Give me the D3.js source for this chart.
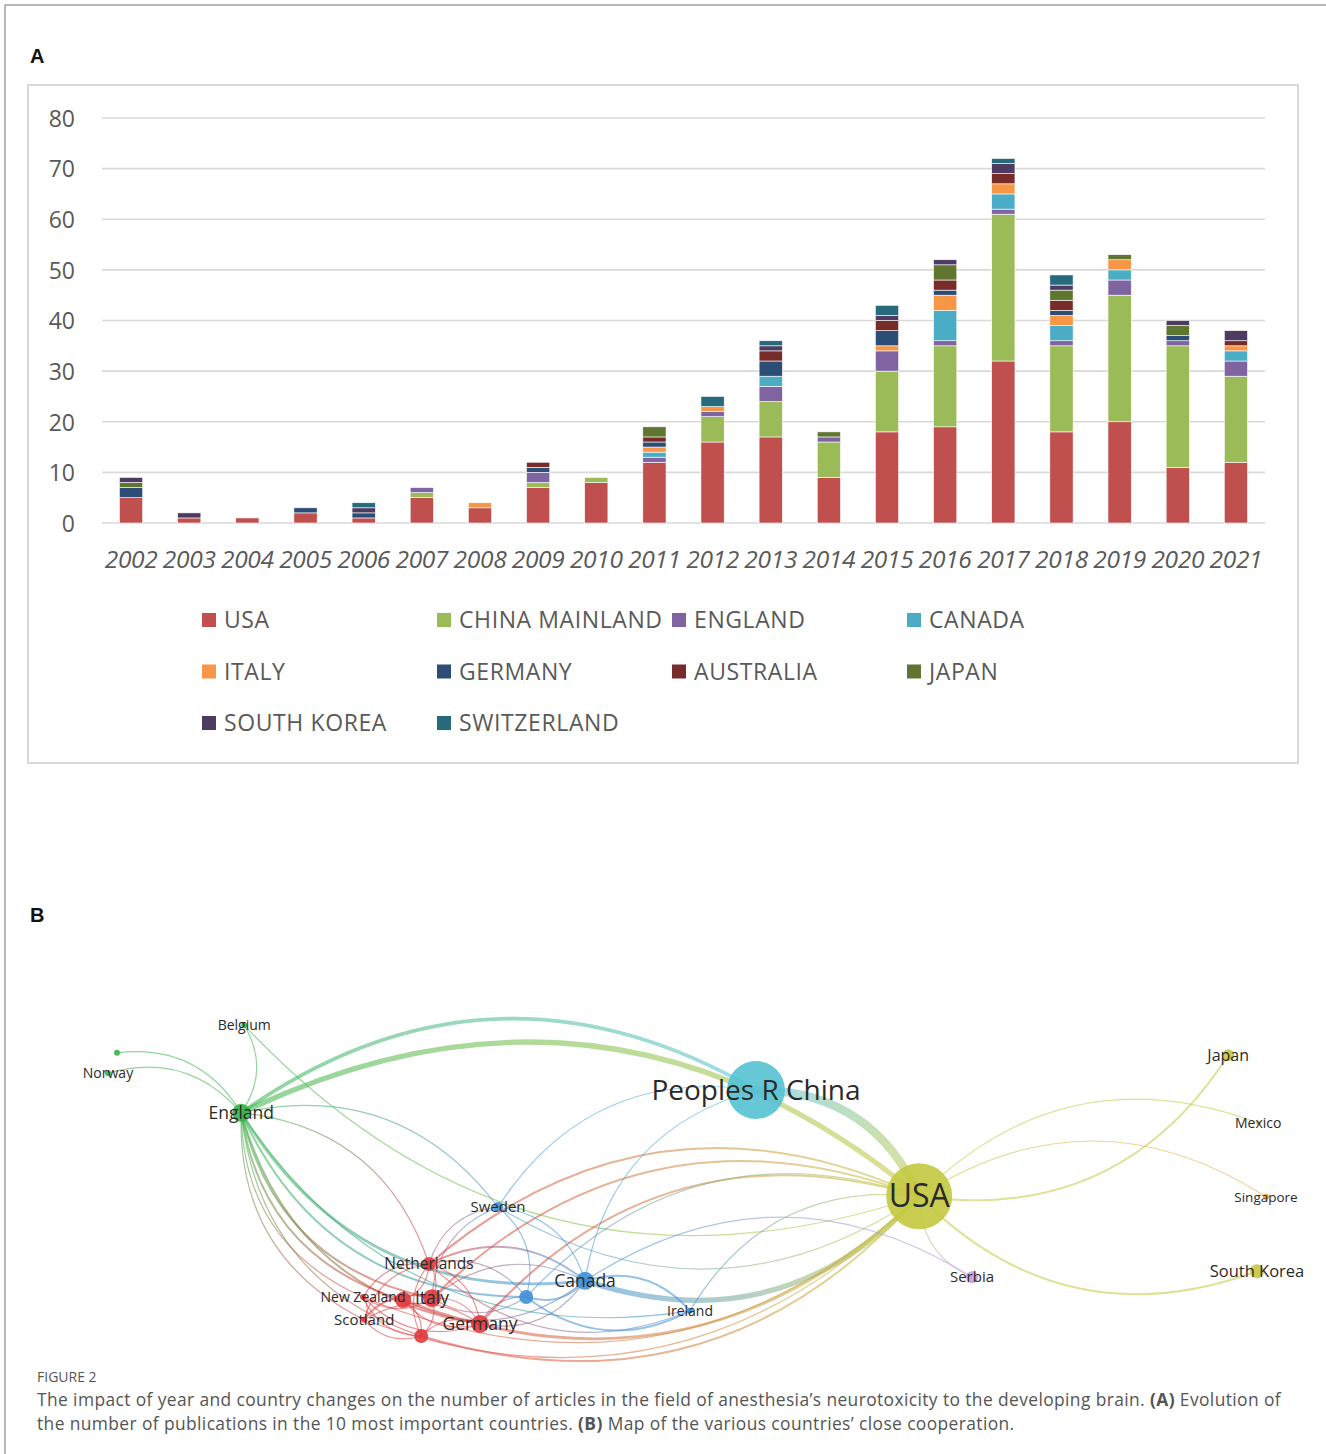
<!DOCTYPE html>
<html><head><meta charset="utf-8">
<script src="https://cdn.jsdelivr.net/npm/d3@7"></script>
<style>body{margin:0;background:#fff;} svg{display:block;}</style>
</head><body>
<svg id="fig" width="1326" height="1454"></svg>
<script>
// ---------- Panel A data ----------
const years = ["2002","2003","2004","2005","2006","2007","2008","2009","2010","2011","2012","2013","2014","2015","2016","2017","2018","2019","2020","2021"];
const seriesNames = ["USA","CHINA MAINLAND","ENGLAND","CANADA","ITALY","GERMANY","AUSTRALIA","JAPAN","SOUTH KOREA","SWITZERLAND"];
const seriesColors = ["#C0504D","#9BBB59","#8064A2","#4BACC6","#F79646","#2C4D75","#772C2A","#5F7530","#4D3B62","#276A7C"];
const usa         = [5,1,1,2,1,5,3,7,8,12,16,17,9,18,19,32,18,20,11,12];
const china       = [0,0,0,0,0,1,0,1,1,0,5,7,7,12,16,29,17,25,24,17];
const england     = [0,0,0,0,0,1,0,2,0,1,1,3,1,4,1,1,1,3,1,3];
const canada      = [0,0,0,0,0,0,0,0,0,1,0,2,0,0,6,3,3,2,0,2];
const italy       = [0,0,0,0,0,0,1,0,0,1,1,0,0,1,3,2,2,2,0,1];
const germany     = [2,0,0,1,1,0,0,1,0,1,0,3,0,3,1,0,1,0,1,0];
const australia   = [0,0,0,0,0,0,0,1,0,1,0,2,0,2,2,2,2,0,0,1];
const japan       = [1,0,0,0,0,0,0,0,0,2,0,0,1,0,3,0,2,1,2,0];
const southKorea  = [1,1,0,0,1,0,0,0,0,0,0,1,0,1,1,2,1,0,1,2];
const switzerland = [0,0,0,0,1,0,0,0,0,0,2,1,0,2,0,1,2,0,0,0];
const yTicks = [0,10,20,30,40,50,60,70,80];

// ---------- Panel B data (map coordinates, node weights, links) ----------
const nodeNames   = ["", "Norway","Belgium","England","Peoples R China","USA","Japan","Mexico","Singapore","South Korea","Serbia","Sweden","Canada","","Ireland","Netherlands","New Zealand","","Italy","Scotland","Germany",""];
const nodeX       = [-0.955,-0.970,-0.743,-0.748,0.110,0.382,0.897,0.947,0.960,0.945,0.470,-0.320,-0.175,-0.273,0.000,-0.435,-0.545,-0.478,-0.430,-0.543,-0.350,-0.448];
const nodeY       = [-0.212,-0.178,-0.258,-0.112,-0.150,0.027,-0.208,-0.095,0.028,0.152,0.162,0.045,0.168,0.195,0.218,0.140,0.195,0.200,0.197,0.233,0.240,0.260];
const nodeWeight  = [0.8,0.8,0.8,7.4,77,100,3.3,0.4,0.8,4.5,3.3,2.3,7.4,4.5,0.8,4.5,0.8,5.9,7.4,0.8,7.4,4.5];
const nodeCluster = [0,0,0,0,1,2,2,2,3,2,4,5,5,5,5,6,6,6,6,6,6,6];
const nodeLabelSize = [0,14,14,17.5,28,32,16,14,13.5,16.5,15,15,17.5,0,14,15.5,14,0,17.5,15,17.5,0];
const clusterColors = ["#37b24a","#55c1d3","#c3c940","#f0a23c","#c59ee0","#3f8fd6","#e0393d"];
// links: [source index, target index, strength, bend direction]
const links = [
 [3,5,6,1],[3,4,4,1],[4,5,10,1],[12,5,6,-1],
 [3,2,1,-1],[3,1,1,-1],[3,0,1,-1],[2,5,1,-1],[3,11,1,1],
 [3,15,1,1],[3,18,2,-1],[3,20,2,-1],[3,16,1,-1],[3,19,1,-1],[3,17,2,-1],[3,21,1,-1],[3,12,3,-1],[3,13,2,-1],[3,14,1,-1],
 [15,5,2,1],[18,5,2,1],[20,5,2,1],[17,5,3,-1],[21,5,2,-1],[16,5,1,-1],[19,5,1,-1],
 [14,5,1,1],[13,5,1,1],[11,5,1,-1],
 [4,12,1,-1],[4,11,1,-1],
 [11,12,1,1],[11,13,1,1],[12,13,2,1],[12,14,2,1],[13,14,2,-1],[11,15,1,-1],[11,18,1,-1],
 [15,12,2,1],[15,13,1,1],[18,12,1,1],[18,13,1,-1],[20,12,1,-1],[20,13,1,1],[17,12,1,-1],[15,14,1,-1],
 [10,5,1,1],[10,12,1,-1],
 [5,6,2,-1],[5,7,1,1],[5,8,1,1],[5,9,2,-1],
 [15,18,1,1],[15,16,1,-1],[15,19,1,-1],[15,20,1,1],[15,17,1,1],[15,21,1,-1],
 [18,16,1,1],[18,19,1,-1],[18,20,1,1],[18,17,1,-1],[18,21,1,1],
 [20,17,1,1],[20,21,1,-1],[20,19,1,-1],[17,21,1,1],[17,19,1,-1],[16,21,1,-1],[16,19,1,1],[19,21,1,-1],[16,20,1,-1]
];

// ---------- caption ----------
const captionTitle = "FIGURE 2";
const captionLine1 = [["The impact of year and country changes on the number of articles in the field of anesthesia’s neurotoxicity to the developing brain. ",false],["(A)",true],[" Evolution of",false]];
const captionLine2 = [["the number of publications in the 10 most important countries. ",false],["(B)",true],[" Map of the various countries’ close cooperation.",false]];

const svg = d3.select("#fig");
const FONT = "'Open Sans', 'Noto Sans', sans-serif";

// outer frame
svg.append("rect").attr("x",5).attr("y",5).attr("width",1340).attr("height",1470)
  .attr("fill","none").attr("stroke","#8a8a8a").attr("stroke-width",1.2);

// ---------- Panel A ----------
svg.append("text").attr("x",30).attr("y",63).text("A")
  .attr("font-family","'Liberation Sans', Arial, sans-serif").attr("font-weight","bold").attr("font-size",20).attr("fill","#111");
svg.append("rect").attr("x",28).attr("y",85).attr("width",1270).attr("height",678)
  .attr("fill","#fff").attr("stroke","#d9d9d9").attr("stroke-width",2);

const x = d3.scaleBand().domain(years).range([102,1265]).paddingInner(0.6).paddingOuter(0.3);
const y = d3.scaleLinear().domain([0,80]).range([523,118]);

const gGrid = svg.append("g");
gGrid.selectAll("line").data(yTicks).join("line")
  .attr("x1",102).attr("x2",1265).attr("y1",d=>y(d)).attr("y2",d=>y(d))
  .attr("stroke","#d9d9d9").attr("stroke-width",1.6);

const yAxis = d3.axisLeft(y).tickValues(yTicks).tickSize(0).tickPadding(0);
const gy = svg.append("g").attr("transform","translate(75,0)").call(yAxis);
gy.select(".domain").remove();
gy.selectAll("text").attr("font-family",FONT).attr("font-size",23).attr("fill","#595959").attr("dy","0.36em");

const xAxis = d3.axisBottom(x).tickSize(0).tickPadding(0);
const gx = svg.append("g").attr("transform","translate(0,568)").call(xAxis);
gx.select(".domain").remove();
gx.selectAll("text").attr("font-family",FONT).attr("font-size",24.5).attr("font-style","italic").attr("fill","#595959").attr("dy",0).attr("letter-spacing",-0.3);

const seriesArrays = [usa,china,england,canada,italy,germany,australia,japan,southKorea,switzerland];
const table = years.map((yr,i)=>{ const o={year:yr}; seriesNames.forEach((s,j)=>o[s]=seriesArrays[j][i]); return o; });
const stacked = d3.stack().keys(seriesNames)(table);
const color = d3.scaleOrdinal().domain(seriesNames).range(seriesColors);

svg.append("g").selectAll("g").data(stacked).join("g").attr("fill",d=>color(d.key))
  .selectAll("rect").data(d=>d.filter(p=>p[1]>p[0])).join("rect")
  .attr("x",d=>x(d.data.year)).attr("width",x.bandwidth())
  .attr("y",d=>y(d[1])).attr("height",d=>y(d[0])-y(d[1]))
  .attr("stroke","#ffffff").attr("stroke-width",0.6);

const leg = svg.append("g").selectAll("g").data(seriesNames).join("g")
  .attr("transform",(d,i)=>`translate(${202+(i%4)*235},${620+Math.floor(i/4)*51.5})`);
leg.append("rect").attr("x",0).attr("y",-7).attr("width",14).attr("height",14).attr("fill",d=>color(d));
leg.append("text").attr("x",22).attr("y",0).attr("dy","0.36em").text(d=>d)
  .attr("font-family",FONT).attr("font-size",23).attr("letter-spacing",0.6).attr("fill","#595959");

// ---------- Panel B ----------
svg.append("text").attr("x",30).attr("y",922).text("B")
  .attr("font-family","'Liberation Sans', Arial, sans-serif").attr("font-weight","bold").attr("font-size",20).attr("fill","#111");

const xm = d3.scaleLinear().domain([-1,1]).range([90,1290]);
const ym = d3.scaleLinear().domain([-1,1]).range([580,1780]);
const rScale = d3.scaleSqrt().domain([0,100]).range([0,33]);
const nodes = nodeNames.map((n,i)=>({name:n,x:xm(nodeX[i]),y:ym(nodeY[i]),r:rScale(nodeWeight[i]),c:clusterColors[nodeCluster[i]],fs:nodeLabelSize[i]}));
const wScale = d3.scaleLinear().domain([1,10]).range([1.2,8.5]);

const defs = svg.append("defs");
const linkData = links.map((l,i)=>({s:nodes[l[0]],t:nodes[l[1]],w:l[2],b:l[3],id:"lg"+i}));
linkData.forEach(d=>{
  const g = defs.append("linearGradient").attr("id",d.id).attr("gradientUnits","userSpaceOnUse")
    .attr("x1",d.s.x).attr("y1",d.s.y).attr("x2",d.t.x).attr("y2",d.t.y);
  g.append("stop").attr("offset","0%").attr("stop-color",d.s.c);
  g.append("stop").attr("offset","100%").attr("stop-color",d.t.c);
});
function linkPath(d){
  const dx=d.t.x-d.s.x, dy=d.t.y-d.s.y;
  const k=0.32*d.b;
  const cx=(d.s.x+d.t.x)/2+k*dy, cy=(d.s.y+d.t.y)/2-k*dx;
  const p=d3.path(); p.moveTo(d.s.x,d.s.y); p.quadraticCurveTo(cx,cy,d.t.x,d.t.y); return p.toString();
}
svg.append("g").attr("fill","none").selectAll("path").data(linkData).join("path")
  .attr("d",linkPath).attr("stroke",d=>`url(#${d.id})`).attr("stroke-width",d=>wScale(d.w))
  .attr("stroke-opacity",0.55).attr("stroke-linecap","round");

svg.append("g").selectAll("circle").data(nodes).join("circle")
  .attr("cx",d=>d.x).attr("cy",d=>d.y).attr("r",d=>d.r).attr("fill",d=>d.c).attr("fill-opacity",0.9);

svg.append("g").selectAll("text").data(nodes.filter(d=>d.name)).join("text")
  .attr("x",d=>d.x).attr("y",d=>d.y).attr("dy","0.35em").attr("text-anchor","middle")
  .attr("font-family",FONT).attr("font-size",d=>d.fs).attr("fill","#2a2a2a").text(d=>d.name);

// ---------- caption ----------
svg.append("text").attr("x",37).attr("y",1382).text(captionTitle)
  .attr("font-family",FONT).attr("font-size",14).attr("fill","#555");
function capLine(parts,yy){
  const t=svg.append("text").attr("x",37).attr("y",yy).attr("font-family",FONT).attr("font-size",17.4).attr("fill","#555");
  parts.forEach(p=>t.append("tspan").text(p[0]).attr("font-weight",p[1]?"bold":"normal"));
  return t;
}
const c1 = capLine(captionLine1,1406);
const c2 = capLine(captionLine2,1430);
// fit line 1 width to the figure's text column via letter spacing
const nChars = captionLine1.map(p=>p[0]).join("").length;
const ls = (1244 - c1.node().getComputedTextLength())/nChars;
c1.attr("letter-spacing",ls); c2.attr("letter-spacing",ls);
</script></body></html>
